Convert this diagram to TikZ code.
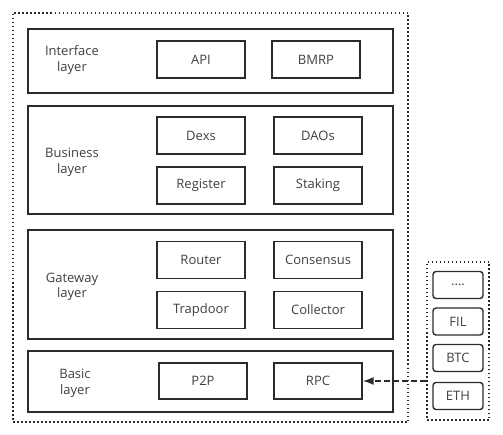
\documentclass[tikz,border=0pt]{standalone}
\usepackage{fontspec}
\setmainfont{Open Sans}
\usetikzlibrary{arrows.meta}

\definecolor{boxcol}{HTML}{2B2B2B}
\definecolor{txtcol}{HTML}{404040}

\tikzset{
    layer/.style = {draw = boxcol, line width = 1.4pt, minimum width = 365pt},
    layername/.style = {align = center, text = txtcol},
    block/.style = {draw = boxcol, line width = 1.4pt, minimum width = 88pt, minimum height = 37pt, text = txtcol},
    coin/.style = {draw = boxcol, line width = 1.4pt, rounded corners = 3pt, minimum width = 50pt, minimum height = 27pt, text = txtcol},
    dotbox/.style = {draw = boxcol, line width = 1.5pt, dash pattern = on 1.5pt off 2.5pt}
}

\begin{document}
\begin{tikzpicture}[x = 1pt, y = -1pt, font = \fontsize{13}{15.5}\selectfont]
    \useasboundingbox (0,0) rectangle (503,435);

    \node [dotbox, minimum width = 395pt, minimum height = 409pt] (system) at (210.5,217.5) {};
    \node [dotbox, minimum width = 62pt, minimum height = 158pt] (chains) at (458,341) {};

    \node [layer, minimum height = 64pt] (interface) at (210.5,61) {};
    \node [layername] (interfacename) at (72,60) {Interface\\layer};
    \node [block] (api) at (201,59.5) {API};
    \node [block] (bmrp) at (316,59.5) {BMRP};

    \node [layer, minimum height = 108pt] (business) at (210.5,160) {};
    \node [layername] (businessname) at (72,162.5) {Business\\layer};
    \node [block] (dexs) at (201,135.5) {Dexs};
    \node [block] (daos) at (318,135.5) {DAOs};
    \node [block] (register) at (201,185.5) {Register};
    \node [block] (staking) at (318,185.5) {Staking};

    \node [layer, minimum height = 109pt] (gateway) at (210.5,284.5) {};
    \node [layername] (gatewayname) at (72,287) {Gateway\\layer};
    \node [block] (router) at (201,260) {Router};
    \node [block] (consensus) at (318,260) {Consensus};
    \node [block] (trapdoor) at (201,310) {Trapdoor};
    \node [block] (collector) at (318,310) {Collector};

    \node [layer, minimum height = 61pt] (basic) at (210.5,381.5) {};
    \node [layername] (basicname) at (75,383.5) {Basic\\layer};
    \node [block, minimum height = 36pt] (p2p) at (203,381) {P2P};
    \node [block, minimum height = 36pt] (rpc) at (318,381) {RPC};

    \node [coin] (more) at (458,285) {....};
    \node [coin] (fil) at (458,321.5) {FIL};
    \node [coin] (btc) at (458,358) {BTC};
    \node [coin] (eth) at (458,396) {ETH};

    \draw [draw = boxcol, line width = 1.5pt, dash pattern = on 6pt off 3pt, -{Latex[length = 11pt, width = 8pt]}] (chains.west |- rpc.east) -- (rpc.east);
\end{tikzpicture}
\end{document}
